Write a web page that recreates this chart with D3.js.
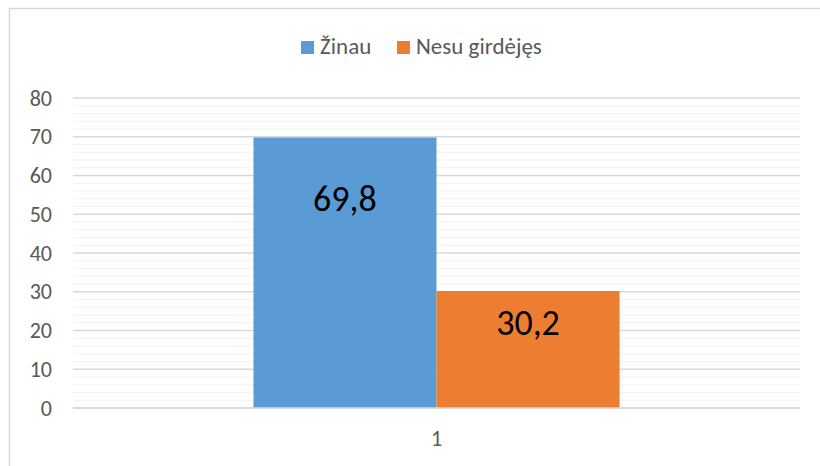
<!DOCTYPE html>
<html>
<head>
<meta charset="utf-8">
<script src="https://cdn.jsdelivr.net/npm/d3@7"></script>
<style>
  body { margin: 0; background: #fff; }
  svg { display: block; font-family: Calibri, Carlito, "Liberation Sans", Arial, sans-serif; }
</style>
</head>
<body>
<svg id="chart" width="820" height="466"></svg>
<script>
// Chart data
const categories = ["1"];
const seriesNames = ["Žinau", "Nesu girdėjęs"];
const seriesValues = [69.8, 30.2];
const seriesLabels = ["69,8", "30,2"];
const seriesColors = ["#5B9BD5", "#ED7D31"];
const yTicks = [0, 10, 20, 30, 40, 50, 60, 70, 80];
const minorTicks = d3.range(0, 81, 2);

const svg = d3.select("#chart");

// Chart frame
svg.append("rect")
  .attr("x", 9.5).attr("y", 8.5)
  .attr("width", 830).attr("height", 480)
  .attr("fill", "none")
  .attr("stroke", "#D9D9D9")
  .attr("stroke-width", 1.5);

const plotLeft = 73, plotRight = 800, plotTop = 98, plotBottom = 408;

const y = d3.scaleLinear().domain([0, 80]).range([plotBottom, plotTop]);
const x = d3.scaleBand().domain(categories).range([plotLeft, plotRight]);
const xs = d3.scaleBand().domain(seriesNames)
  .range([0, x.bandwidth()]).paddingOuter(0.986).paddingInner(0);

// Minor gridlines
svg.append("g").selectAll("line")
  .data(minorTicks.filter(d => d % 10 !== 0))
  .join("line")
  .attr("x1", plotLeft).attr("x2", plotRight)
  .attr("y1", d => y(d)).attr("y2", d => y(d))
  .attr("stroke", "#F2F2F2")
  .attr("stroke-width", 1.2);

// Major gridlines
svg.append("g").selectAll("line")
  .data(yTicks)
  .join("line")
  .attr("x1", plotLeft).attr("x2", plotRight)
  .attr("y1", d => y(d)).attr("y2", d => y(d))
  .attr("stroke", "#D9D9D9")
  .attr("stroke-width", 1.5);

// Y axis labels
const yAxis = svg.append("g")
  .attr("transform", `translate(${plotLeft - 21},0)`)
  .call(d3.axisLeft(y).tickValues(yTicks).tickSize(0).tickPadding(0));
yAxis.select(".domain").remove();
yAxis.selectAll("text")
  .attr("fill", "#595959")
  .attr("font-size", 22)
  .attr("font-family", 'Calibri, Carlito, "Liberation Sans", Arial, sans-serif');

// X axis labels
const xAxis = svg.append("g")
  .attr("transform", `translate(0,${plotBottom})`)
  .call(d3.axisBottom(x).tickSize(0).tickPadding(22));
xAxis.select(".domain").remove();
xAxis.selectAll("text")
  .attr("fill", "#595959")
  .attr("font-size", 22)
  .attr("font-family", 'Calibri, Carlito, "Liberation Sans", Arial, sans-serif');

// Bars
svg.append("g").selectAll("rect")
  .data(seriesNames.map((name, i) => ({ name, value: seriesValues[i], color: seriesColors[i] })))
  .join("rect")
  .attr("x", d => x(categories[0]) + xs(d.name))
  .attr("width", xs.bandwidth())
  .attr("y", d => y(d.value))
  .attr("height", d => y(0) - y(d.value))
  .attr("fill", d => d.color);

// Redraw zero line over bars
svg.append("line")
  .attr("x1", plotLeft).attr("x2", plotRight)
  .attr("y1", y(0)).attr("y2", y(0))
  .attr("stroke", "#D9D9D9")
  .attr("stroke-width", 1.5);

// Data labels (placed manually inside the bars, as in the original)
const labelOffsets = [73, 44];
svg.append("g").selectAll("text")
  .data(seriesNames)
  .join("text")
  .attr("x", d => x(categories[0]) + xs(d) + xs.bandwidth() / 2)
  .attr("y", (d, i) => y(seriesValues[i]) + labelOffsets[i])
  .attr("text-anchor", "middle")
  .attr("font-size", 36)
  .attr("fill", "#000")
  .text((d, i) => seriesLabels[i]);

// Legend
const legendX = [301, 397];
const legend = svg.append("g").selectAll("g")
  .data(seriesNames)
  .join("g")
  .attr("transform", (d, i) => `translate(${legendX[i]},41)`);
legend.append("rect")
  .attr("width", 13).attr("height", 13)
  .attr("fill", (d, i) => seriesColors[i]);
legend.append("text")
  .attr("x", 19).attr("y", 13)
  .attr("font-size", 23)
  .attr("fill", "#595959")
  .text(d => d);
</script>
</body>
</html>
